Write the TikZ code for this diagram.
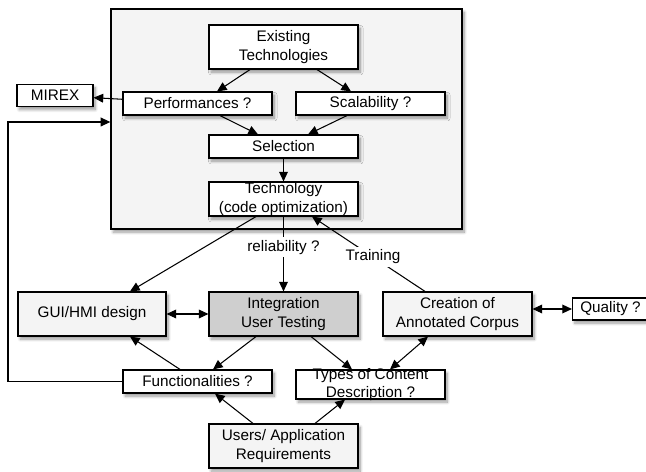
\documentclass[tikz,border=0pt]{standalone}
\usepackage{fontspec}
\setmainfont{Liberation Sans}
\usepackage{tikz}
\usetikzlibrary{arrows.meta,shadows.blur}
\definecolor{panel}{HTML}{F4F4F4}
\definecolor{darkpanel}{HTML}{CFCFCF}
\tikzstyle{arrow} = [line width=0.6pt,-{Triangle[length=5.5pt,width=5pt]}]
\tikzstyle{both} = [line width=0.6pt,{Triangle[length=5.5pt,width=5pt]}-{Triangle[length=5.5pt,width=5pt]}]
\tikzstyle{box} = [draw, line width=0.65pt, fill=white, align=center, inner sep=0pt, minimum width=2.98cm, blur shadow={shadow blur steps=8,shadow blur radius=1.6pt,shadow xshift=1.3pt,shadow yshift=-1.8pt}]
\tikzstyle{tag} = [fill=white, inner sep=1.5pt]

\begin{document}
\begin{tikzpicture}[x=0.02cm,y=-0.02cm,font=\fontsize{8.7}{10.4}\selectfont]
			\useasboundingbox (0,0) rectangle (646,472);
			\node [box, fill=panel, line width=0.8pt, minimum width=7.02cm, minimum height=4.4cm] (frame) at (286.5,119) {};
			\node [box, minimum height=0.88cm] (exist) at (283.5,47) {Existing\\Technologies};
			\node [box, minimum width=1.52cm, minimum height=0.44cm] (mirex) at (55,95.5) {MIREX};
			\node [box, minimum height=0.46cm] (perf) at (197.5,103.5) {Performances ?};
			\node [box, minimum height=0.46cm] (scal) at (370.5,103.5) {Scalability ?};
			\node [box, minimum height=0.46cm] (sel) at (283.5,146.5) {Selection};
			\node [box, minimum height=0.68cm] (tech) at (283.5,199) {Technology\\(code optimization)};
			\node [box, fill=panel, minimum width=2.96cm, minimum height=0.88cm] (gui) at (92,314) {GUI/HMI design};
			\node [box, fill=darkpanel, minimum height=0.88cm] (integ) at (283.5,314) {Integration\\User Testing};
			\node [box, fill=panel, minimum height=0.88cm] (corpus) at (457.5,314) {Creation of\\Annotated Corpus};
			\node [box, minimum width=1.52cm, minimum height=0.44cm] (quality) at (610.5,309) {Quality ?};
			\node [box, minimum height=0.46cm] (func) at (197.5,381.5) {Functionalities ?};
			\node [box, inner ysep=-1.8pt, minimum height=0.58cm] (types) at (370.5,384.5) {Types of Content\\Description ?};
			\node [box, fill=panel, minimum height=0.88cm] (users) at (283.5,446) {Users/ Application\\Requirements};
			\coordinate (loop) at (8,122);
			\draw[arrow] ([xshift=-0.67cm]exist.south) -- ([xshift=0.39cm]perf.north);
			\draw[arrow] ([xshift=0.67cm]exist.south) -- ([xshift=-0.39cm]scal.north);
			\draw[arrow] ([xshift=0.45cm]perf.south) -- ([xshift=-0.51cm]sel.north);
			\draw[arrow] ([xshift=-0.47cm]scal.south) -- ([xshift=0.49cm]sel.north);
			\draw[arrow] (sel) -- (tech);
			\draw[arrow] (perf) -- (mirex);
			\draw[arrow] (func.west) -| (loop) -- (frame.west |- loop);
			\draw[arrow] ([xshift=-0.55cm]tech.south) -- ([xshift=0.76cm]gui.north);
			\draw[arrow] (tech) -- node[tag, pos=0.41] (rel) {reliability ?} (integ);
			\draw[arrow] ([xshift=-0.65cm]corpus.north) -- node[tag, pos=0.46] (train) {Training} ([xshift=0.57cm]tech.south);
			\draw[both] (gui) -- (integ);
			\draw[both] (corpus.east |- quality.west) -- (quality.west);
			\draw[arrow] ([xshift=-0.55cm]integ.south) -- ([xshift=0.31cm]func.north);
			\draw[arrow] ([xshift=0.55cm]integ.south) -- ([xshift=-0.37cm]types.north);
			\draw[arrow] ([xshift=-0.35cm]func.north) -- ([xshift=0.76cm]gui.south);
			\draw[both] ([xshift=0.39cm]types.north) -- ([xshift=-0.59cm]corpus.south);
			\draw[arrow] ([xshift=-0.61cm]users.north) -- ([xshift=0.35cm]func.south);
			\draw[arrow] ([xshift=0.63cm]users.north) -- ([xshift=-0.51cm]types.south);
		\end{tikzpicture}
\end{document}
